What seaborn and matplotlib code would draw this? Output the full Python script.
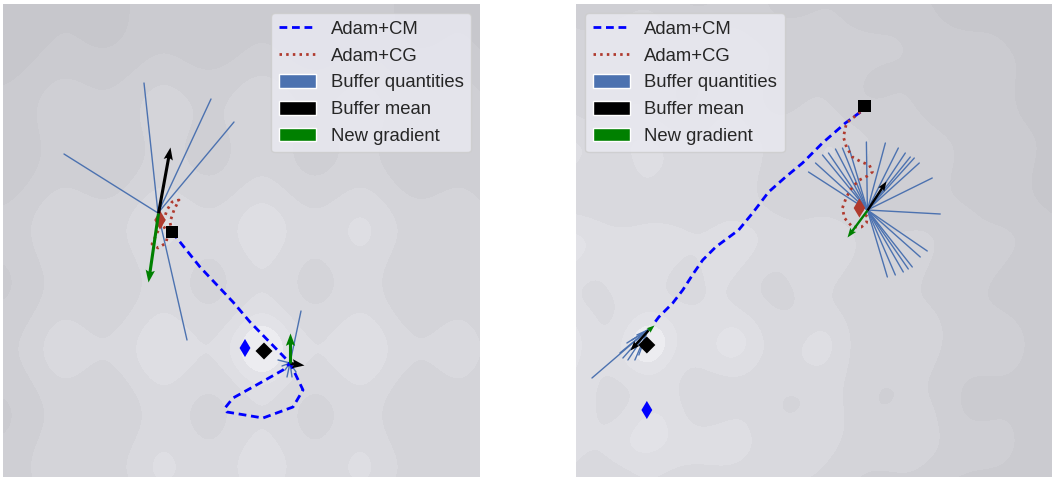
import numpy as np
import matplotlib
matplotlib.use("Agg")
import matplotlib.pyplot as plt
from matplotlib.lines import Line2D
from matplotlib.patches import Patch
import seaborn as sns

sns.set_theme(style="darkgrid")
plt.rcParams["font.family"] = ["Liberation Sans", "DejaVu Sans"]

# ---------------- left run ----------------
L_start = [1.69, 2.45]
L_cm_x = [1.69, 1.97, 2.30, 2.47, 2.87, 3.00, 2.90, 2.60, 2.24, 2.22, 2.30, 2.57, 2.80, 2.87]
L_cm_y = [2.45, 2.10, 1.75, 1.55, 1.14, 0.87, 0.70, 0.59, 0.65, 0.69, 0.79, 0.94, 1.07, 1.14]
L_cg_x = [1.69, 1.67, 1.71, 1.76, 1.69, 1.64, 1.60, 1.54, 1.49, 1.55, 1.63, 1.65, 1.60, 1.57]
L_cg_y = [2.45, 2.55, 2.67, 2.77, 2.75, 2.67, 2.55, 2.44, 2.33, 2.29, 2.34, 2.43, 2.52, 2.57]
L_cm_end = [2.42, 1.29]
L_cg_end = [1.57, 2.57]
L_optimum = [2.61, 1.26]

# buffers: anchor point, buffer end points, buffer mean and new gradient
L_buf1_origin = [1.55, 2.64]
L_buf1_x = [1.41, 2.08, 2.31, 0.61, 1.84]
L_buf1_y = [3.94, 3.78, 3.55, 3.23, 1.37]
L_buf1_mean = [0.12, 0.66]
L_buf1_grad = [-0.10, -0.69]

L_buf2_origin = [2.87, 1.14]
L_buf2_x = [2.98, 2.75, 2.79, 2.84, 2.89, 2.93, 2.82]
L_buf2_y = [1.66, 1.17, 1.11, 1.00, 1.00, 1.05, 1.07]
L_buf2_mean = [0.14, -0.02]
L_buf2_grad = [0.0, 0.30]

# ---------------- right run ----------------
R_start = [2.89, 3.71]
R_cm_x = [2.85, 2.70, 2.47, 2.27, 2.10, 1.93, 1.77, 1.63, 1.40, 1.27, 1.18, 1.07, 0.97, 0.83, 0.77]
R_cm_y = [3.65, 3.54, 3.34, 3.14, 3.00, 2.85, 2.64, 2.47, 2.30, 2.17, 2.04, 1.87, 1.74, 1.60, 1.52]
R_cg_x = [2.85, 2.71, 2.68, 2.71, 2.77, 2.86, 2.94, 2.97, 2.92, 2.84, 2.77, 2.71, 2.67, 2.69, 2.77, 2.86, 2.91, 2.92, 2.84]
R_cg_y = [3.65, 3.54, 3.40, 3.30, 3.20, 3.15, 3.12, 3.05, 3.01, 2.97, 2.90, 2.80, 2.69, 2.59, 2.50, 2.50, 2.54, 2.60, 2.69]
R_cm_end = [0.71, 0.67]
R_cg_end = [2.84, 2.69]
R_optimum = [0.71, 1.32]

R_buf1_origin = [2.92, 2.67]
R_buf1_x = [2.33, 2.40, 2.47, 2.53, 2.60, 2.67, 2.73, 2.91, 3.10, 3.23, 3.30, 3.35, 3.39,
            3.44, 3.57, 3.65, 3.52, 3.37, 3.28, 3.20, 3.12, 3.45, 3.33]
R_buf1_y = [3.05, 3.14, 3.22, 3.24, 3.28, 3.29, 3.31, 3.35, 3.34, 3.29, 3.24, 3.20, 3.19,
            3.14, 2.99, 2.63, 2.26, 2.10, 2.05, 2.02, 2.00, 2.20, 2.08]
R_buf1_mean = [0.19, 0.29]
R_buf1_grad = [-0.20, -0.27]

R_buf2_origin = [0.72, 1.47]
R_buf2_x = [0.16, 0.47, 0.52, 0.59, 0.63, 0.44, 0.51, 0.56, 0.61]
R_buf2_y = [0.99, 1.19, 1.17, 1.17, 1.22, 1.24, 1.34, 1.37, 1.42]
R_buf2_mean = [-0.18, -0.20]
R_buf2_grad = [0.06, 0.05]

XMAX, YMAX = 4.77, 4.73
BUF_COLOR = "#4C72B0"
CG_COLOR = "#B03A2E"
CM_DASH = (0, (2.8, 1.7))
CG_DOT = (0, (0.9, 1.5))

# loss levels and their shading, lightest at the basin
LEVELS = [-10, -0.25, 0.30, 0.85, 1.6, 2.5, 3.6, 5.0, 50]
SHADES = ["#ECECF0", "#E2E2E7", "#DEDEE3", "#D9D9DE", "#D4D4D9", "#CFCFD4", "#CBCBD0", "#C7C7CC"]


def landscape_left(X, Y):
    cx, cy = 2.59, 1.28
    r2 = (X - cx) ** 2 + (Y - cy) ** 2
    bowl = 0.30 * r2
    well = -0.9 * np.exp(-r2 / 0.10)
    ripple = 0.40 * (2 - np.cos(2 * np.pi * (X - cx) / 1.02) - np.cos(2 * np.pi * (Y - cy) / 1.25))
    return bowl + well + ripple


def landscape_right(X, Y):
    cx, cy = R_optimum
    r2 = (X - cx) ** 2 + (Y - cy) ** 2
    bowl = 0.20 * r2 + 0.15 * (X - cx)
    well = -0.8 * np.exp(-r2 / 0.06)
    ripple = (0.25 * (2 - np.cos(2 * np.pi * (X - cx) / 0.9) - np.cos(2 * np.pi * (Y - cy) / 1.0))
              + 0.22 * np.sin(3.7 * X + 1.9 * Y + 0.4) * np.cos(2.9 * Y - 1.3 * X)
              + 0.15 * np.cos(7.1 * X - 2.2 * Y + 1.0) * np.sin(5.3 * Y + 0.7))
    return bowl + well + ripple


def draw_panel(ax, field, cm_x, cm_y, cg_x, cg_y, start, cm_end, cg_end, optimum,
               buffers, arrow_w, legend_loc):
    xs = np.linspace(0, XMAX, 400)
    ys = np.linspace(0, YMAX, 400)
    X, Y = np.meshgrid(xs, ys)
    Z = field(X, Y)
    ax.contourf(X, Y, Z, levels=LEVELS, colors=SHADES, zorder=0)

    for origin, bx, by, mean, grad in buffers:
        for ex, ey in zip(bx, by):
            ax.plot([origin[0], ex], [origin[1], ey], color=BUF_COLOR, lw=1.0, zorder=2)

    sns.lineplot(x=cm_x, y=cm_y, sort=False, estimator=None, ax=ax, color="blue",
                 lw=2, linestyle=CM_DASH, zorder=3)
    sns.lineplot(x=cg_x, y=cg_y, sort=False, estimator=None, ax=ax, color=CG_COLOR,
                 lw=2, linestyle=CG_DOT, zorder=3)

    for origin, bx, by, mean, grad in buffers:
        ax.quiver(origin[0], origin[1], mean[0], mean[1], angles="xy", scale_units="xy",
                  scale=1, color="black", width=arrow_w, headwidth=3, headlength=4,
                  headaxislength=3.5, zorder=5)
        ax.quiver(origin[0], origin[1], grad[0], grad[1], angles="xy", scale_units="xy",
                  scale=1, color="green", width=arrow_w, headwidth=3, headlength=4,
                  headaxislength=3.5, zorder=5)

    sns.scatterplot(x=[start[0]], y=[start[1]], marker="s", s=85, color="black",
                    edgecolor="none", ax=ax, zorder=6)
    sns.scatterplot(x=[optimum[0]], y=[optimum[1]], marker="D", s=75, color="black",
                    edgecolor="none", ax=ax, zorder=6)
    sns.scatterplot(x=[cm_end[0]], y=[cm_end[1]], marker="d", s=85, color="blue",
                    edgecolor="none", ax=ax, zorder=6)
    sns.scatterplot(x=[cg_end[0]], y=[cg_end[1]], marker="d", s=95, color=CG_COLOR,
                    edgecolor="none", ax=ax, zorder=4)

    ax.set_xlim(0, XMAX)
    ax.set_ylim(0, YMAX)
    ax.set_xticks([])
    ax.set_yticks([])
    ax.grid(False)
    for sp in ax.spines.values():
        sp.set_visible(False)

    handles = [
        Line2D([], [], color="blue", lw=2, linestyle=CM_DASH),
        Line2D([], [], color=CG_COLOR, lw=2, linestyle=CG_DOT),
        Patch(facecolor=BUF_COLOR),
        Patch(facecolor="black"),
        Patch(facecolor="green"),
    ]
    labels = ["Adam+CM", "Adam+CG", "Buffer quantities", "Buffer mean", "New gradient"]
    ax.legend(handles, labels, loc=legend_loc, fontsize=13.3, handlelength=2.0,
              handleheight=0.75, labelspacing=0.52, borderaxespad=0.5)


fig = plt.figure(figsize=(10.52, 4.78), dpi=100)
ax_l = fig.add_axes([3 / 1052, 1 / 478, 477 / 1052, 473 / 478])
ax_r = fig.add_axes([576 / 1052, 1 / 478, 476 / 1052, 473 / 478])

draw_panel(ax_l, landscape_left, L_cm_x, L_cm_y, L_cg_x, L_cg_y, L_start, L_cm_end,
           L_cg_end, L_optimum,
           [(L_buf1_origin, L_buf1_x, L_buf1_y, L_buf1_mean, L_buf1_grad),
            (L_buf2_origin, L_buf2_x, L_buf2_y, L_buf2_mean, L_buf2_grad)],
           0.0065, "upper right")
draw_panel(ax_r, landscape_right, R_cm_x, R_cm_y, R_cg_x, R_cg_y, R_start, R_cm_end,
           R_cg_end, R_optimum,
           [(R_buf1_origin, R_buf1_x, R_buf1_y, R_buf1_mean, R_buf1_grad),
            (R_buf2_origin, R_buf2_x, R_buf2_y, R_buf2_mean, R_buf2_grad)],
           0.005, "upper left")

fig.savefig("out.png", dpi=100)
